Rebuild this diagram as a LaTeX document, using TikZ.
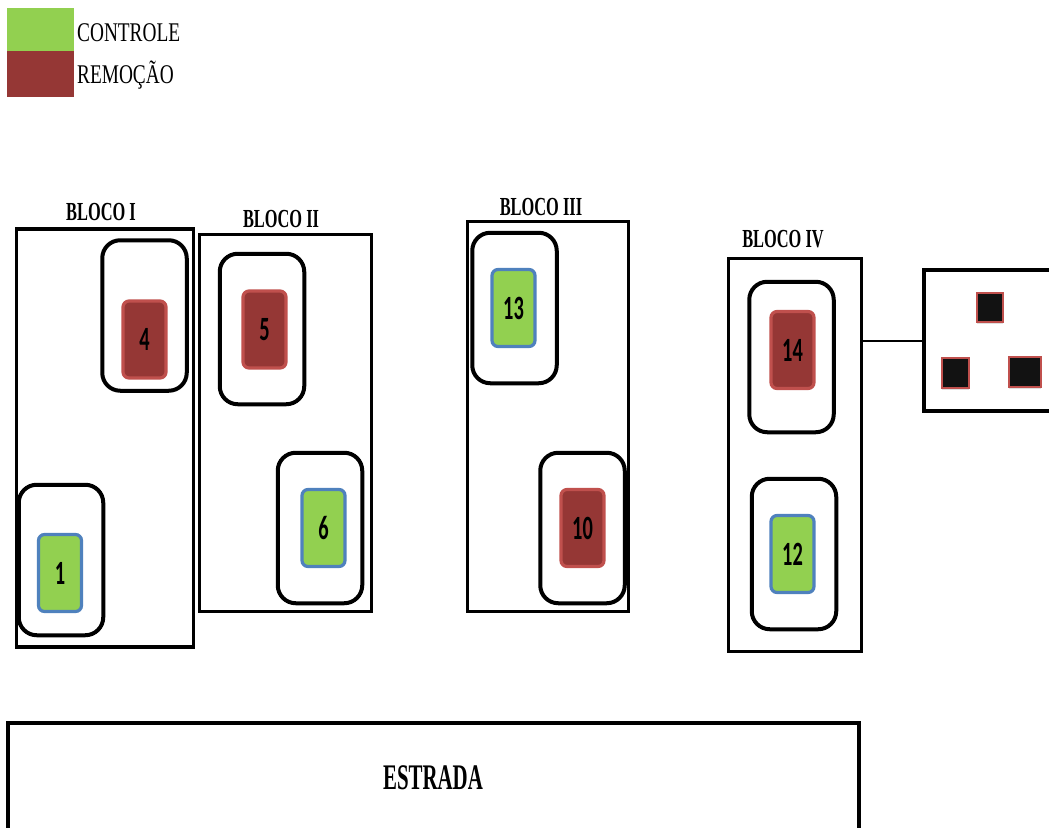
\documentclass[tikz,border=0pt]{standalone}
\usepackage{fontspec}
\usepackage{graphicx}
\setmainfont{Liberation Serif}
\newfontfamily\numfont{Carlito}
\usetikzlibrary{shadows}
\definecolor{cgreen}{HTML}{92D050}
\definecolor{cred}{HTML}{953735}
\definecolor{credb}{HTML}{C0504D}
\definecolor{cblue}{HTML}{4F81BD}
\newcommand{\narrowtxt}[2]{\scalebox{#1}[1]{#2}}
\tikzset{
  blockbox/.style={draw, line width=3.5pt, rectangle, inner sep=0pt},
  plotarea/.style={draw, line width=4pt, rounded corners=18pt, minimum width=84.5pt, minimum height=150.5pt, inner sep=0pt},
  plotbase/.style={line width=3.2pt, rounded corners=6pt, minimum width=43pt, minimum height=77pt, inner sep=0pt,
     font=\numfont\bfseries\fontsize{34}{34}\selectfont},
  ctrl/.style={plotbase, fill=cgreen, draw=cblue},
  rem/.style={plotbase, fill=cred, draw=credb},
  blocklabel/.style={font=\bfseries\fontsize{26}{26}\selectfont, inner sep=0pt},
  legtext/.style={font=\fontsize{27}{27}\selectfont, inner sep=0pt, anchor=west},
  tree/.style={fill=black!93, draw=credb, line width=1.2pt, inner sep=0pt,
     drop shadow={opacity=0.25, shadow xshift=0pt, shadow yshift=-2pt}},
}
\begin{document}
\begin{tikzpicture}[x=1pt, y=-1pt]
\useasboundingbox (0,0) rectangle (1049,827);
\clip (0,0) rectangle (1049,827);
% legend
\node[fill=cgreen, minimum width=67pt, minimum height=43pt, inner sep=0pt] (lgreen) at (40.5,29.5) {};
\node[fill=cred, minimum width=67pt, minimum height=46pt, inner sep=0pt] (lred) at (40.5,74) {};
\node[legtext] (lt1) at (77,33) {\narrowtxt{0.715}{CONTROLE}};
\node[legtext] (lt2) at (77,75) {\narrowtxt{0.715}{REMOÇÃO}};
% blocks
\node[blockbox, minimum width=177pt, minimum height=418pt] (b1) at (105,438) {};
\node[blockbox, minimum width=172pt, minimum height=377pt] (b2) at (285.5,423) {};
\node[blockbox, minimum width=161pt, minimum height=390pt] (b3) at (548,416.5) {};
\node[blockbox, minimum width=133pt, minimum height=393pt] (b4) at (795,455) {};
\node[blocklabel] (lb1) at (101,212) {\narrowtxt{0.63}{BLOCO I}};
\node[blocklabel] (lb2) at (281,219) {\narrowtxt{0.63}{BLOCO II}};
\node[blocklabel] (lb3) at (541,207) {\narrowtxt{0.63}{BLOCO III}};
\node[blocklabel] (lb4) at (783,239) {\narrowtxt{0.63}{BLOCO IV}};
% plot areas
\node[plotarea] (a4) at (144.5,315.5) {};
\node[plotarea] (a1) at (61,560) {};
\node[plotarea] (a5) at (262,329) {};
\node[plotarea] (a6) at (320,528) {};
\node[plotarea] (a13) at (514.5,308) {};
\node[plotarea] (a10) at (582.5,528) {};
\node[plotarea] (a14) at (791.5,357) {};
\node[plotarea] (a12) at (794,554) {};
% plots
\node[rem] (p4) at (144.5,339.5) {\narrowtxt{0.6}{4}};
\node[ctrl] (p1) at (60,573) {\narrowtxt{0.6}{1}};
\node[rem] (p5) at (264.5,329.5) {\narrowtxt{0.6}{5}};
\node[ctrl] (p6) at (323.5,528) {\narrowtxt{0.6}{6}};
\node[ctrl] (p13) at (513.5,308) {\narrowtxt{0.6}{13}};
\node[rem] (p10) at (582.5,528) {\narrowtxt{0.6}{10}};
\node[rem] (p14) at (792.5,350) {\narrowtxt{0.6}{14}};
\node[ctrl] (p12) at (792.5,554) {\narrowtxt{0.6}{12}};
% detail
\node[blockbox, minimum width=150pt, minimum height=141pt] (det) at (999,340.5) {};
\draw[line width=2pt] (b4.east |- det.west) -- (det.west);
\node[tree, minimum width=26pt, minimum height=29pt] (t1) at (990,307.5) {};
\node[tree, minimum width=27pt, minimum height=30pt] (t2) at (955.5,373) {};
\node[tree, minimum width=32pt, minimum height=30pt] (t3) at (1025,372) {};
% road
\node[blockbox, minimum width=851pt, minimum height=130pt] (road) at (433.5,788) {};
\node[font=\bfseries\fontsize{36}{36}\selectfont, inner sep=0pt] (rl) at (433,778) {\narrowtxt{0.58}{ESTRADA}};
\end{tikzpicture}
\end{document}
